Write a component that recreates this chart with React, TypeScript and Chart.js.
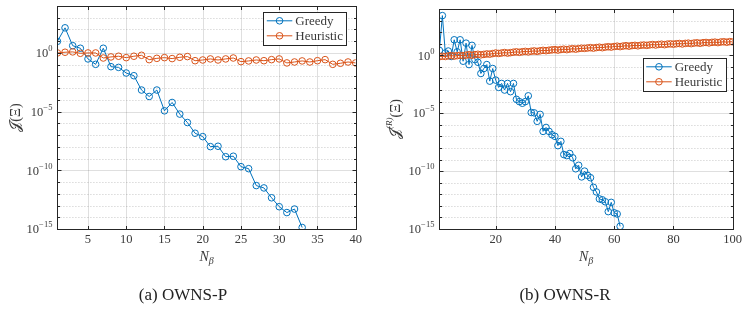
import React, { useEffect, useRef } from 'react';
import { Chart, registerables } from 'chart.js';
Chart.register(...registerables);

// ---------- DATA (log10 of the plotted quantity) ----------
const nBetaP = [1,2,3,4,5,6,7,8,9,10,11,12,13,14,15,16,17,18,19,20,21,22,23,24,25,26,27,28,29,30,31,32,33,34,35,36,37,38,39,40];
const greedyPLog10 = [0.99,2.14,0.62,0.4,-0.51,-0.97,0.4,-1.17,-1.23,-1.71,-1.94,-3.16,-3.71,-3.16,-4.93,-4.22,-5.21,-5.93,-6.84,-7.13,-7.98,-7.95,-8.84,-8.8,-9.69,-9.86,-11.3,-11.5,-12.34,-13.1,-13.6,-13.3,-14.87];
const heuristicPLog10 = [0,0.06,0.09,-0.03,0,0,-0.43,-0.34,-0.28,-0.4,-0.28,-0.2,-0.57,-0.46,-0.4,-0.48,-0.37,-0.31,-0.66,-0.6,-0.51,-0.6,-0.51,-0.43,-0.74,-0.68,-0.6,-0.66,-0.57,-0.51,-0.85,-0.77,-0.68,-0.77,-0.66,-0.57,-0.97,-0.88,-0.77,-0.85];

const nBetaR = [1,2,3,4,5,6,7,8,9,10,11,12,13,14,15,16,17,18,19,20,21,22,23,24,25,26,27,28,29,30,31,32,33,34,35,36,37,38,39,40,41,42,43,44,45,46,47,48,49,50,51,52,53,54,55,56,57,58,59,60,61,62,63,64,65,66,67,68,69,70,71,72,73,74,75,76,77,78,79,80,81,82,83,84,85,86,87,88,89,90,91,92,93,94,95,96,97,98,99,100];
const greedyRLog10 = [0.43,3.43,0.2,0.37,-0.1,1.34,0.3,1.34,-0.51,1.05,-0.8,0.86,-0.37,-0.6,-1.57,-1.14,-0.8,-2.23,-1.14,-2.14,-2.77,-2.43,-3.0,-2.43,-3.14,-2.43,-3.8,-4.0,-4.14,-4.0,-3.5,-4.94,-4.97,-5.7,-5.1,-6.57,-6.23,-6.57,-6.86,-7.0,-7.8,-7.43,-8.57,-8.66,-8.48,-8.85,-9.8,-9.5,-10.5,-10.0,-10.37,-10.57,-11.4,-11.8,-12.4,-12.48,-12.65,-13.5,-12.7,-13.6,-13.7,-14.77];
const heuristicRLog10 = [
  -0.12,-0.08,-0.1,-0.05,-0.02,-0.07,-0.03,0.0,-0.04,0.02,
  0.05,0.01,0.06,0.09,0.04,0.08,0.12,0.1,0.15,0.2,
  0.16,0.2,0.24,0.19,0.23,0.27,0.3,0.26,0.31,0.34,
  0.3,0.35,0.38,0.34,0.39,0.43,0.4,0.44,0.47,0.49,
  0.45,0.5,0.53,0.49,0.54,0.57,0.53,0.58,0.61,0.6,
  0.63,0.66,0.62,0.67,0.7,0.66,0.71,0.74,0.71,0.76,
  0.79,0.75,0.8,0.83,0.79,0.84,0.86,0.82,0.87,0.89,
  0.86,0.9,0.93,0.89,0.94,0.96,0.92,0.97,0.99,0.96,
  1.0,1.02,0.98,1.03,1.05,1.01,1.06,1.08,1.04,1.09,
  1.11,1.07,1.12,1.14,1.1,1.15,1.17,1.13,1.18,1.16];

const xTicksP = [5,10,15,20,25,30,35,40];
const xTicksR = [20,40,60,80,100];
const yLabelExps = [0,-5,-10,-15];
const yDecadeExps = [4,3,2,1,0,-1,-2,-3,-4,-5,-6,-7,-8,-9,-10,-11,-12,-13,-14,-15];
const seriesNames = ['Greedy','Heuristic'];
const seriesColors = ['#0072BD','#D95319'];

const FONT = "'Liberation Serif', 'DejaVu Serif', serif";
const TXT = '#3a3a3a';

type PanelCfg = {
  xMin: number; xMax: number; xTicks: number[];
  legend: { x: number; y: number; w: number; h: number };
  yTitleX: number; yTitleSup: boolean;
};

function drawAxesPlugin(cfg: PanelCfg) {
  return {
    id: 'matlabAxes',
    beforeDatasetsDraw(chart: any) {
      const { ctx, chartArea: a, scales } = chart;
      const x = scales.x, y = scales.y;
      ctx.save();
      ctx.strokeStyle = 'rgba(38,38,38,0.15)';
      ctx.lineWidth = 1;
      cfg.xTicks.forEach((t) => {
        const px = Math.round(x.getPixelForValue(t)) + 0.5;
        ctx.beginPath(); ctx.moveTo(px, a.top); ctx.lineTo(px, a.bottom); ctx.stroke();
      });
      yDecadeExps.forEach((e) => {
        const py = Math.round(y.getPixelForValue(Math.pow(10, e))) + 0.5;
        if (yLabelExps.includes(e)) {
          ctx.setLineDash([]);
          ctx.strokeStyle = 'rgba(38,38,38,0.15)';
        } else {
          ctx.setLineDash([1, 2]);
          ctx.strokeStyle = 'rgba(38,38,38,0.25)';
        }
        ctx.beginPath(); ctx.moveTo(a.left, py); ctx.lineTo(a.right, py); ctx.stroke();
      });
      ctx.restore();
    },
    afterDraw(chart: any) {
      const { ctx, chartArea: a, scales } = chart;
      const x = scales.x, y = scales.y;
      ctx.save();
      ctx.setLineDash([]);
      ctx.strokeStyle = '#262626';
      ctx.lineWidth = 1;
      const L = Math.round(a.left) + 0.5, R = Math.round(a.right) + 0.5;
      const T = Math.round(a.top) + 0.5, B = Math.round(a.bottom) + 0.5;
      ctx.strokeRect(L, T, R - L, B - T);
      cfg.xTicks.forEach((t) => {
        const px = Math.round(x.getPixelForValue(t)) + 0.5;
        ctx.beginPath();
        ctx.moveTo(px, B); ctx.lineTo(px, B - 3.5);
        ctx.moveTo(px, T); ctx.lineTo(px, T + 3.5);
        ctx.stroke();
      });
      yDecadeExps.forEach((e) => {
        const py = Math.round(y.getPixelForValue(Math.pow(10, e))) + 0.5;
        const len = yLabelExps.includes(e) ? 4 : 2.5;
        ctx.beginPath();
        ctx.moveTo(L, py); ctx.lineTo(L + len, py);
        ctx.moveTo(R, py); ctx.lineTo(R - len, py);
        ctx.stroke();
      });
      ctx.fillStyle = TXT;
      ctx.font = `12.5px ${FONT}`;
      ctx.textAlign = 'center';
      ctx.textBaseline = 'middle';
      cfg.xTicks.forEach((t) => {
        ctx.fillText(String(t), x.getPixelForValue(t), a.bottom + 11);
      });
      yLabelExps.forEach((e) => {
        const py = y.getPixelForValue(Math.pow(10, e));
        const ex = e === 0 ? '0' : '\u2212' + String(-e);
        ctx.font = `8.5px ${FONT}`;
        const wExp = ctx.measureText(ex).width;
        ctx.font = `12.5px ${FONT}`;
        const wBase = ctx.measureText('10').width;
        const right = a.left - 5;
        ctx.textAlign = 'left';
        ctx.textBaseline = 'middle';
        ctx.fillText('10', right - wExp - wBase, py + 1);
        ctx.font = `8.5px ${FONT}`;
        ctx.fillText(ex, right - wExp, py - 4);
      });
      const cx = (a.left + a.right) / 2;
      ctx.font = `italic 14px ${FONT}`;
      const wN = ctx.measureText('N').width;
      ctx.font = `italic 10px ${FONT}`;
      const wB = ctx.measureText('\u03B2').width;
      const sx = cx - (wN + wB) / 2;
      ctx.textAlign = 'left';
      ctx.textBaseline = 'alphabetic';
      ctx.font = `italic 14px ${FONT}`;
      ctx.fillText('N', sx, a.bottom + 32);
      ctx.font = `italic 10px ${FONT}`;
      ctx.fillText('\u03B2', sx + wN, a.bottom + 35);
      ctx.save();
      const cy = (a.top + a.bottom) / 2;
      ctx.translate(cfg.yTitleX, cy);
      ctx.rotate(-Math.PI / 2);
      const parts: [string, string, number][] = cfg.yTitleSup
        ? [['\uD835\uDCA5', `15px ${FONT}`, 0], ['(R)', `italic 9px ${FONT}`, -6], ['(\u039E)', `14px ${FONT}`, 0]]
        : [['\uD835\uDCA5', `15px ${FONT}`, 0], ['(\u039E)', `14px ${FONT}`, 0]];
      let tot = 0;
      parts.forEach(([s, f]) => { ctx.font = f; tot += ctx.measureText(s).width; });
      let ox = -tot / 2;
      ctx.textBaseline = 'middle';
      parts.forEach(([s, f, dy]) => {
        ctx.font = f; ctx.fillText(s, ox, dy + 1); ox += ctx.measureText(s).width;
      });
      ctx.restore();
      const lg = cfg.legend;
      ctx.fillStyle = '#ffffff';
      ctx.fillRect(lg.x, lg.y, lg.w, lg.h);
      ctx.strokeStyle = '#262626';
      ctx.lineWidth = 1;
      ctx.strokeRect(Math.round(lg.x) + 0.5, Math.round(lg.y) + 0.5, Math.round(lg.w), Math.round(lg.h));
      seriesNames.forEach((name, i) => {
        const ry = lg.y + 8.5 + i * 15;
        const x0 = lg.x + 3.5, x1 = lg.x + 29;
        ctx.strokeStyle = seriesColors[i];
        ctx.lineWidth = 1;
        ctx.beginPath(); ctx.moveTo(x0, ry); ctx.lineTo(x1, ry); ctx.stroke();
        ctx.beginPath(); ctx.arc((x0 + x1) / 2, ry, 3.3, 0, Math.PI * 2); ctx.stroke();
        ctx.fillStyle = TXT;
        ctx.font = `13px ${FONT}`;
        ctx.textAlign = 'left';
        ctx.textBaseline = 'middle';
        ctx.fillText(name, x1 + 3, ry + 0.5);
      });
      ctx.restore();
    },
  };
}

function toPoints(xs: number[], logs: number[]) {
  return logs.map((v, i) => ({ x: xs[i], y: Math.pow(10, v) }));
}

function Panel(props: {
  left: number; width: number; pad: { left: number; right: number; top: number; bottom: number };
  xs: number[]; greedy: number[]; heuristic: number[]; cfg: PanelCfg; caption: string; captionX: number;
}) {
  const ref = useRef<HTMLCanvasElement | null>(null);
  useEffect(() => {
    if (!ref.current) return;
    const ds = (label: string, data: any[], color: string, order: number) => ({
      label, data, borderColor: color, backgroundColor: 'rgba(0,0,0,0)',
      borderWidth: 1, pointRadius: 3.3, pointBorderWidth: 1, pointBackgroundColor: 'rgba(0,0,0,0)',
      pointBorderColor: color, tension: 0, order,
    });
    const chart = new Chart(ref.current, {
      type: 'line',
      data: {
        datasets: [
          ds(seriesNames[0], toPoints(props.xs, props.greedy), seriesColors[0], 2),
          ds(seriesNames[1], toPoints(props.xs, props.heuristic), seriesColors[1], 1),
        ],
      },
      options: {
        animation: false,
        responsive: false,
        maintainAspectRatio: false,
        layout: { padding: props.pad },
        plugins: { legend: { display: false }, tooltip: { enabled: false } },
        scales: {
          x: { type: 'linear', min: props.cfg.xMin, max: props.cfg.xMax, display: false },
          y: { type: 'logarithmic', min: 1e-15, max: 1e4, display: false },
        },
      },
      plugins: [drawAxesPlugin(props.cfg)],
    } as any);
    return () => chart.destroy();
  }, []);
  return (
    <>
      <canvas ref={ref} width={props.width} height={309}
        style={{ position: 'absolute', left: props.left, top: 0, width: props.width, height: 309 }} />
      <div style={{ position: 'absolute', left: props.left + props.captionX - 100, width: 200, top: 284, textAlign: 'center',
        fontFamily: FONT, fontSize: 17, color: '#222', lineHeight: '22px' }}>{props.caption}</div>
    </>
  );
}

export default function App() {
  return (
    <div style={{ position: 'fixed', left: 0, top: 0, width: 749, height: 309, background: '#fff', overflow: 'hidden' }}>
      <Panel left={0} width={370} pad={{ left: 57.4, right: 14.3, top: 6, bottom: 80 }}
        xs={nBetaP} greedy={greedyPLog10} heuristic={heuristicPLog10} caption="(a) OWNS-P" captionX={183}
        cfg={{ xMin: 1, xMax: 40, xTicks: xTicksP, legend: { x: 263.3, y: 12.3, w: 83.4, h: 32.7 }, yTitleX: 15, yTitleSup: false }} />
      <Panel left={370} width={379} pad={{ left: 69.4, right: 16.3, top: 9, bottom: 80 }}
        xs={nBetaR} greedy={greedyRLog10} heuristic={heuristicRLog10} caption="(b) OWNS-R" captionX={195}
        cfg={{ xMin: 1, xMax: 100, xTicks: xTicksR, legend: { x: 272.7, y: 58.3, w: 83.3, h: 33.4 }, yTitleX: 25, yTitleSup: true }} />
    </div>
  );
}
